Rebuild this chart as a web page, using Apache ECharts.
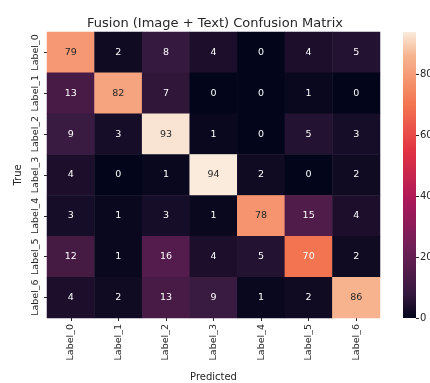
<!DOCTYPE html>
<html>
<head>
<meta charset="utf-8">
<script src="https://cdn.jsdelivr.net/npm/echarts@6/dist/echarts.min.js"></script>
<style>html,body{margin:0;padding:0;background:#fff;}#c{width:430px;height:383px;}</style>
</head>
<body>
<div id="c"></div>
<script>
const labels = ['Label_0','Label_1','Label_2','Label_3','Label_4','Label_5','Label_6'];
const row0 = [79, 2, 8, 4, 0, 4, 5];
const row1 = [13, 82, 7, 0, 0, 1, 0];
const row2 = [9, 3, 93, 1, 0, 5, 3];
const row3 = [4, 0, 1, 94, 2, 0, 2];
const row4 = [3, 1, 3, 1, 78, 15, 4];
const row5 = [12, 1, 16, 4, 5, 70, 2];
const row6 = [4, 2, 13, 9, 1, 2, 86];
const colorbarTicks = [0, 20, 40, 60, 80];

const rows = [row0,row1,row2,row3,row4,row5,row6];
const data = [];
rows.forEach((r,i)=>r.forEach((v,j)=>data.push([j,i,v])));
const vmax = Math.max(...data.map(d=>d[2]));

// seaborn "rocket" colormap stops
const rocket = [[0,'#03051a'],[1/12,'#35193e'],[3/12,'#701f57'],[5/12,'#ad1759'],[7/12,'#e13342'],[9/12,'#f37651'],[11/12,'#f6b48f'],[1,'#faebdd']];
function hex(c){return [parseInt(c.slice(1,3),16),parseInt(c.slice(3,5),16),parseInt(c.slice(5,7),16)];}
function cmapRGB(t){
  for(let k=0;k<rocket.length-1;k++){
    const [a,ca]=rocket[k],[b,cb]=rocket[k+1];
    if(t<=b){const f=(t-a)/(b-a);const A=hex(ca),B=hex(cb);
      return A.map((x,i)=>Math.round(x+(B[i]-x)*f));}
  }
  return hex(rocket[rocket.length-1][1]);
}
function cmap(t){return 'rgb('+cmapRGB(t).join(',')+')';}
const N=48, ramp=[];
for(let k=0;k<=N;k++) ramp.push(cmap(k/N));
const gradStops = ramp.map((c,k)=>({offset:k/N,color:c}));

// seaborn annotation colour rule (relative luminance)
function textColor(v){
  const lin=cmapRGB(v/vmax).map(x=>{x/=255;return x<=0.03928?x/12.92:Math.pow((x+0.055)/1.055,2.4);});
  const L=0.2126*lin[0]+0.7152*lin[1]+0.0722*lin[2];
  return L>0.408?'#262626':'#ffffff';
}
const dataStyled = data.map(d=>({value:d,label:{color:textColor(d[2])}}));

const chart = echarts.init(document.getElementById('c'));
chart.setOption({
  backgroundColor:'#fff',
  animation:false,
  title:{text:'Fusion (Image + Text) Confusion Matrix',left:'center',top:12,
    textStyle:{fontFamily:'DejaVu Sans',fontSize:13,fontWeight:'normal',color:'#262626'}},
  grid:[
    {left:47,top:32,width:333,height:286,outerBoundsMode:'none'},
    {left:403,top:32,width:13,height:286,outerBoundsMode:'none'}
  ],
  xAxis:[
    {type:'category',data:labels,gridIndex:0,position:'bottom',
     name:'Predicted',nameLocation:'middle',nameGap:54,nameMoveOverlap:false,
     nameTextStyle:{fontFamily:'DejaVu Sans',fontSize:10,color:'#262626'},
     axisLine:{show:false},axisTick:{show:true,alignWithLabel:true,length:3,lineStyle:{color:'#262626'}},
     axisLabel:{interval:0,hideOverlap:false,rotate:90,fontFamily:'DejaVu Sans',fontSize:9.5,color:'#262626',margin:6},
     splitLine:{show:false}},
    {type:'category',data:['cb'],gridIndex:1,show:false}
  ],
  yAxis:[
    {type:'category',data:labels,gridIndex:0,inverse:true,
     name:'True',nameLocation:'middle',nameGap:24,nameRotate:90,nameMoveOverlap:false,
     nameTextStyle:{fontFamily:'DejaVu Sans',fontSize:10,color:'#262626'},
     axisLine:{show:false},axisTick:{show:true,interval:0,alignWithLabel:true,length:3,lineStyle:{color:'#262626'}},
     axisLabel:{interval:0,hideOverlap:false,rotate:90,fontFamily:'DejaVu Sans',fontSize:9.5,color:'#262626',margin:6,align:'center',verticalAlign:'bottom'},
     splitLine:{show:false}},
    {type:'value',gridIndex:1,min:0,max:vmax,position:'right',
     axisLine:{show:false},
     axisLabel:{fontFamily:'DejaVu Sans',fontSize:10,color:'#262626',margin:4,
       customValues:colorbarTicks},
     axisTick:{show:true,length:3,lineStyle:{color:'#262626'},customValues:colorbarTicks},
     splitLine:{show:false}}
  ],
  visualMap:{show:false,min:0,max:vmax,seriesIndex:0,inRange:{color:ramp}},
  series:[
    {type:'heatmap',xAxisIndex:0,yAxisIndex:0,data:dataStyled,
     label:{show:true,fontFamily:'DejaVu Sans',fontSize:9.5,
       formatter:p=>String(p.value[2])},
     itemStyle:{borderWidth:0},
     emphasis:{disabled:true}
    },
    {type:'bar',xAxisIndex:1,yAxisIndex:1,data:[vmax],barWidth:'100%',silent:true,
     itemStyle:{color:new echarts.graphic.LinearGradient(0,1,0,0,gradStops)}}
  ]
});
</script>
</body>
</html>
